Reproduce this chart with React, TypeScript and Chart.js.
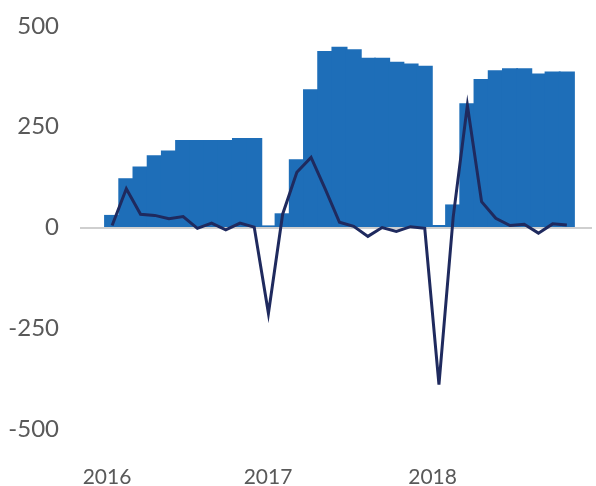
import React, { useEffect, useRef } from "react";
import { Chart, registerables } from "chart.js";

Chart.register(...registerables);

// Monthly categories (Feb 2016 – Oct 2018)
const MONTHS = [
  "2016-02", "2016-03", "2016-04", "2016-05", "2016-06", "2016-07", "2016-08", "2016-09", "2016-10", "2016-11", "2016-12",
  "2017-01", "2017-02", "2017-03", "2017-04", "2017-05", "2017-06", "2017-07", "2017-08", "2017-09", "2017-10", "2017-11", "2017-12",
  "2018-01", "2018-02", "2018-03", "2018-04", "2018-05", "2018-06", "2018-07", "2018-08", "2018-09", "2018-10",
];

// Year-to-date cumulative (bars)
const CUMULATIVE = [
  30, 121, 150, 178, 190, 216, 216, 216, 216, 221, 221,
  4, 34, 168, 342, 437, 447, 441, 420, 420, 410, 406, 400,
  5, 56, 307, 367, 389, 394, 394, 381, 386, 386,
];

// Monthly change (line)
const MONTHLY_CHANGE = [
  5, 96, 33, 30, 22, 27, -2, 11, -6, 11, 1,
  -213, 33, 137, 174, 95, 13, 3, -22, 0, -10, 2, -2,
  -390, 25, 303, 64, 23, 5, 8, -14, 9, 6,
];

const YEAR_LABELS = ["2016", "2017", "2018"];
const Y_TICKS = [-500, -250, 0, 250, 500];

export default function App() {
  const canvasRef = useRef<HTMLCanvasElement | null>(null);

  useEffect(() => {
    if (!canvasRef.current) return;
    const yearTickPos = [-0.36, 10.97, 22.55];
    const chart = new Chart(canvasRef.current, {
      type: "bar",
      data: {
        labels: MONTHS,
        datasets: [
          {
            type: "line",
            label: "Monthly change",
            data: MONTHLY_CHANGE.map((y, i) => ({ x: i, y })),
            borderColor: "#1f2a5e",
            borderWidth: 3,
            pointRadius: 0,
            tension: 0,
            fill: false,
            order: 0,
          } as any,
          {
            type: "bar",
            label: "Year-to-date",
            data: CUMULATIVE.map((y, i) => ({ x: i, y })),
            backgroundColor: "#1e6eb8",
            borderWidth: 0,
            categoryPercentage: 1,
            barPercentage: 1.06,
            inflateAmount: 0.5,
            order: 1,
          } as any,
        ],
      },
      options: {
        animation: false,
        responsive: true,
        maintainAspectRatio: false,
        layout: { padding: { left: 8, right: 4, top: 26, bottom: 0 } },
        plugins: { legend: { display: false }, tooltip: { enabled: false } },
        scales: {
          x: {
            type: "linear",
            offset: false,
            min: -2.26,
            max: 33.77,
            grid: { display: false, drawTicks: false, tickLength: 0, offset: false },
            border: { display: false },
            afterBuildTicks: (scale: any) => {
              scale.ticks = yearTickPos.map((v) => ({ value: v }));
            },
            afterFit: (scale: any) => {
              scale.height = 57;
              scale.paddingLeft = 0;
              scale.paddingRight = 0;
            },
            ticks: {
              autoSkip: false,
              maxRotation: 0,
              padding: 36,
              color: "#595959",
              font: { family: "Lato", size: 21 },
              callback: (_v: any, i: number) => YEAR_LABELS[i],
            },
          },
          y: {
            min: -500,
            max: 500,
            afterBuildTicks: (scale: any) => {
              scale.ticks = Y_TICKS.map((v) => ({ value: v }));
            },
            afterFit: (scale: any) => {
              scale.width = 72;
              scale.paddingTop = 0;
              scale.paddingBottom = 0;
            },
            grid: {
              drawTicks: false,
              tickLength: 0,
              lineWidth: 2,
              color: (ctx: any) => (ctx.tick && ctx.tick.value === 0 ? "#cfcfcf" : "rgba(0,0,0,0)"),
            },
            border: { display: false },
            ticks: {
              padding: 21,
              color: "#595959",
              font: { family: "Lato", size: 24 },
            },
          },
        },
      },
    });
    return () => chart.destroy();
  }, []);

  return (
    <div style={{ position: "fixed", left: 0, top: 0, width: 596, height: 486 }}>
      <canvas ref={canvasRef} />
    </div>
  );
}
